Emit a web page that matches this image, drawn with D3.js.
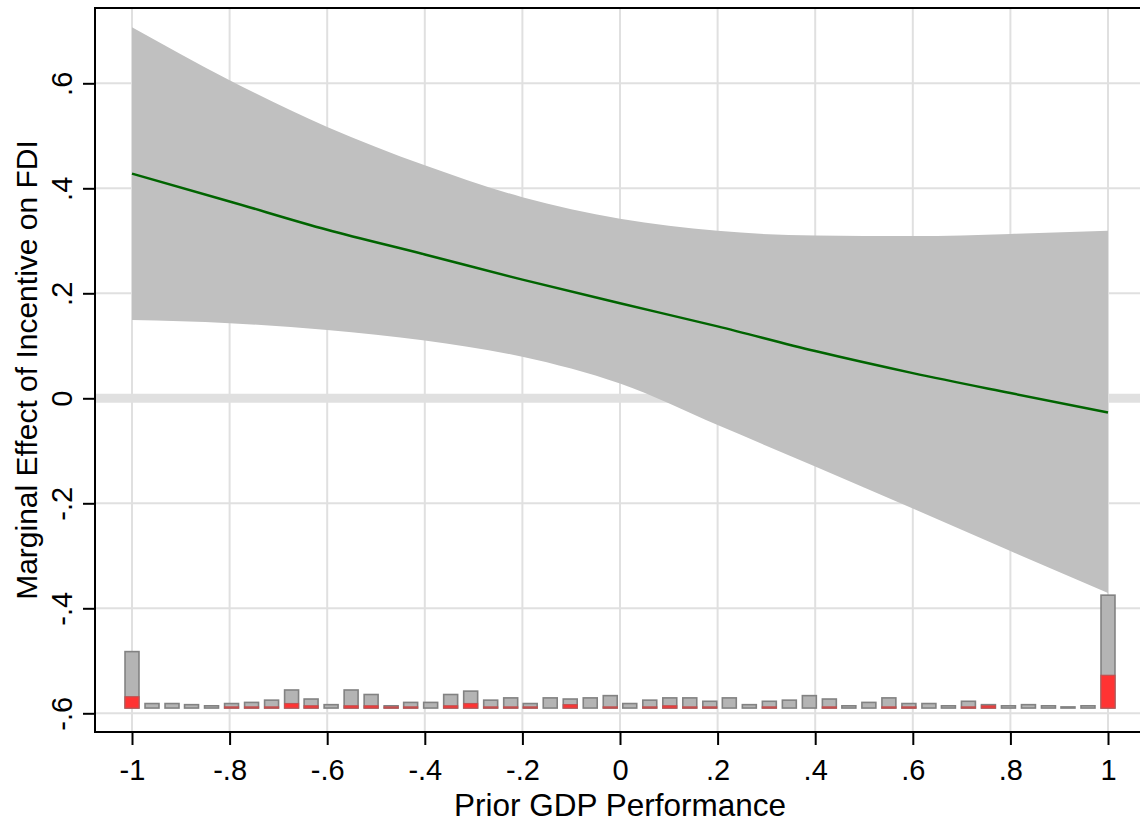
<!DOCTYPE html>
<html>
<head>
<meta charset="utf-8">
<script src="https://cdn.jsdelivr.net/npm/d3@7"></script>
<style>
      body { margin: 0; background: #ffffff; }
      svg { display: block; font-family: "Liberation Sans", Arial, sans-serif; }
</style>
</head>
<body>
<svg id="drawing_region"></svg>
<script>
// moderator values and the marginal effect with its 95% band
const gdp = [-1, -0.8, -0.6, -0.4, -0.2, 0, 0.2, 0.4, 0.6, 0.8, 1];
const effect = [0.428, 0.375, 0.321, 0.274, 0.226, 0.181, 0.137, 0.090, 0.048, 0.010, -0.027];
const ci_upper = [0.707, 0.606, 0.517, 0.444, 0.383, 0.342, 0.319, 0.310, 0.309, 0.313, 0.319];
const ci_lower = [0.149, 0.143, 0.130, 0.110, 0.079, 0.028, -0.051, -0.130, -0.210, -0.291, -0.371];

// histogram of the moderator (all obs / treated obs)
const bin_centers = [-1, -0.959, -0.918, -0.878, -0.837, -0.796, -0.755, -0.714, -0.673, -0.633,
      -0.592, -0.551, -0.510, -0.469, -0.429, -0.388, -0.347, -0.306, -0.265, -0.224,
      -0.184, -0.143, -0.102, -0.061, -0.020, 0.020, 0.061, 0.102, 0.143, 0.184,
      0.224, 0.265, 0.306, 0.347, 0.388, 0.429, 0.469, 0.510, 0.551, 0.592,
      0.633, 0.673, 0.714, 0.755, 0.796, 0.837, 0.878, 0.918, 0.959, 1];
const count_all = [50, 4, 4, 3, 2, 4, 5, 7, 16, 8, 3, 16, 12, 2, 5, 5, 12, 15, 7, 9,
      4, 9, 8, 9, 11, 4, 7, 9, 9, 6, 9, 3, 6, 7, 11, 8, 2, 5, 9, 4,
      4, 2, 6, 3, 2, 3, 2, 1, 2, 100];
const count_treated = [10, 0, 0, 0, 0, 1, 1, 1, 4, 2, 0, 2, 2, 1, 1, 0, 2, 4, 1, 1,
      1, 0, 3, 0, 1, 0, 1, 2, 1, 1, 0, 0, 1, 0, 0, 1, 0, 0, 1, 1,
      0, 0, 1, 2, 0, 0, 0, 0, 0, 29];

const x_ticks = [-1, -0.8, -0.6, -0.4, -0.2, 0, 0.2, 0.4, 0.6, 0.8, 1];
const x_tick_labels = ['-1', '-.8', '-.6', '-.4', '-.2', '0', '.2', '.4', '.6', '.8', '1'];
const y_ticks = [-0.6, -0.4, -0.2, 0, 0.2, 0.4, 0.6];
const y_tick_labels = ['-.6', '-.4', '-.2', '0', '.2', '.4', '.6'];

class MarginsPlot{

      constructor(config, data){
            this.config = {
                  parent: config.parent,
                  width: config.width || 1140,
                  height: config.height || 824,
                  margin: config.margin || {top:8, right:-2, bottom:92, left:95},
                  xlabel: config.xlabel || '',
                  ylabel: config.ylabel || ''
            }
            this.data = data;
            this.init();
      }

      init(){
            let self = this;

            self.svg = d3.select( self.config.parent )
                  .attr('width', self.config.width)
                  .attr('height', self.config.height);

            self.chart = self.svg.append('g')
                  .attr('transform', `translate(${self.config.margin.left}, ${self.config.margin.top})`);

            self.inner_width = self.config.width - self.config.margin.left - self.config.margin.right;
            self.inner_height = self.config.height - self.config.margin.top - self.config.margin.bottom;

            // stata leaves some room between the frame and the outer ticks
            self.xscale = d3.scaleLinear()
                  .domain( [-1, 1] )
                  .range( [37, 1013] );

            self.yscale = d3.scaleLinear()
                  .domain( [-0.6, 0.6] )
                  .range( [705.3, 75.3] );

            // bar heights live in y units, sitting on a base just above -.6
            self.hist_y = d3.scaleLinear()
                  .domain( [0, 100] )
                  .range( [-0.59, -0.375] );

            self.xaxis = d3.axisBottom( self.xscale )
                  .tickValues( x_ticks )
                  .tickFormat( (d, i) => x_tick_labels[i] )
                  .tickSize(13)
                  .tickSizeOuter(0);

            self.yaxis = d3.axisLeft( self.yscale )
                  .tickValues( y_ticks )
                  .tickFormat( (d, i) => y_tick_labels[i] )
                  .tickSize(12)
                  .tickSizeOuter(0);

            self.grid_group = self.chart.append('g');
            self.band_group = self.chart.append('g');
            self.hist_group = self.chart.append('g');

            self.xaxis_group = self.chart.append('g')
                  .attr('transform', `translate(0, ${self.inner_height})`);

            self.yaxis_group = self.chart.append('g');

            self.svg.append('text')
                  .style('font-size', '31.5px')
                  .attr('text-anchor', 'middle')
                  .attr('x', self.config.margin.left + self.xscale(0))
                  .attr('y', 816)
                  .text( self.config.xlabel );

            self.svg.append('text')
                  .style('font-size', '30px')
                  .attr('text-anchor', 'middle')
                  .attr('transform', `translate(37, ${self.config.margin.top + self.inner_height / 2}) rotate(-90)`)
                  .text( self.config.ylabel );
      }

      render(){
            let self = this;

            // grid
            self.grid_group.selectAll('.vgrid')
                  .data( x_ticks )
                  .join('line')
                  .attr('class', 'vgrid')
                  .attr('x1', d => self.xscale(d))
                  .attr('x2', d => self.xscale(d))
                  .attr('y1', 0)
                  .attr('y2', self.inner_height)
                  .style('stroke', '#e0e0e0')
                  .style('stroke-width', 2);

            self.grid_group.selectAll('.hgrid')
                  .data( y_ticks )
                  .join('line')
                  .attr('class', 'hgrid')
                  .attr('x1', 0)
                  .attr('x2', self.inner_width)
                  .attr('y1', d => self.yscale(d))
                  .attr('y2', d => self.yscale(d))
                  .style('stroke', '#e0e0e0')
                  .style('stroke-width', d => d === 0 ? 9 : 2);

            // confidence band + point estimate
            const area = d3.area()
                  .x( d => self.xscale(d.x) )
                  .y0( d => self.yscale(d.lo) )
                  .y1( d => self.yscale(d.hi) )
                  .curve( d3.curveMonotoneX );

            const line = d3.line()
                  .x( d => self.xscale(d.x) )
                  .y( d => self.yscale(d.y) )
                  .curve( d3.curveMonotoneX );

            self.band_group.append('path')
                  .datum( self.data.curve )
                  .attr('d', area)
                  .style('fill', '#c0c0c0');

            self.band_group.append('path')
                  .datum( self.data.curve )
                  .attr('d', line)
                  .style('fill', 'none')
                  .style('stroke', '#006400')
                  .style('stroke-width', 2.5);

            // histogram
            const bar_w = self.xscale(0.0286) - self.xscale(0);

            self.hist_group.selectAll('.all')
                  .data( self.data.bins )
                  .join('rect')
                  .attr('class', 'all')
                  .attr('x', d => self.xscale(d.x) - bar_w / 2 )
                  .attr('y', d => self.yscale( self.hist_y(d.all) ) )
                  .attr('width', bar_w)
                  .attr('height', d => self.yscale( self.hist_y(0) ) - self.yscale( self.hist_y(d.all) ) )
                  .style('fill', '#b4b4b4')
                  .style('stroke', '#828282')
                  .style('stroke-width', 1.6);

            self.hist_group.selectAll('.treated')
                  .data( self.data.bins.filter(d => d.treated > 0) )
                  .join('rect')
                  .attr('class', 'treated')
                  .attr('x', d => self.xscale(d.x) - bar_w / 2 )
                  .attr('y', d => self.yscale( self.hist_y(d.treated) ) )
                  .attr('width', bar_w)
                  .attr('height', d => self.yscale( self.hist_y(0) ) - self.yscale( self.hist_y(d.treated) ) )
                  .style('fill', '#ff3333')
                  .style('stroke', '#c25050')
                  .style('stroke-width', 1.2);

            // frame
            self.chart.append('rect')
                  .attr('x', 0)
                  .attr('y', 0)
                  .attr('width', self.inner_width)
                  .attr('height', self.inner_height)
                  .style('fill', 'none')
                  .style('stroke', '#000')
                  .style('stroke-width', 2);

            self.xaxis_group
                  .call( self.xaxis );

            self.yaxis_group
                  .call( self.yaxis );

            self.svg.selectAll('.domain').remove();
            self.svg.selectAll('.tick line')
                  .style('stroke', '#000')
                  .style('stroke-width', 2);

            self.xaxis_group.selectAll('text')
                  .attr('y', 48)
                  .attr('dy', 0)
                  .style('font-size', '29px')
                  .style('fill', '#000')
                  .style('font-family', '"Liberation Sans", Arial, sans-serif');

            self.yaxis_group.selectAll('text')
                  .attr('x', 0)
                  .attr('dy', 0)
                  .attr('text-anchor', 'middle')
                  .attr('transform', 'translate(-23, 0) rotate(-90)')
                  .style('font-size', '29px')
                  .style('fill', '#000')
                  .style('font-family', '"Liberation Sans", Arial, sans-serif');
      }
}

const curve = gdp.map( (x, i) => ({x: x, y: effect[i], lo: ci_lower[i], hi: ci_upper[i]}) );
const bins = bin_centers.map( (x, i) => ({x: x, all: count_all[i], treated: count_treated[i]}) );

const plot = new MarginsPlot({
      parent: '#drawing_region',
      width: 1140,
      height: 824,
      xlabel: 'Prior GDP Performance',
      ylabel: 'Marginal Effect of Incentive on FDI'
}, {curve: curve, bins: bins});
plot.render();
</script>
</body>
</html>
